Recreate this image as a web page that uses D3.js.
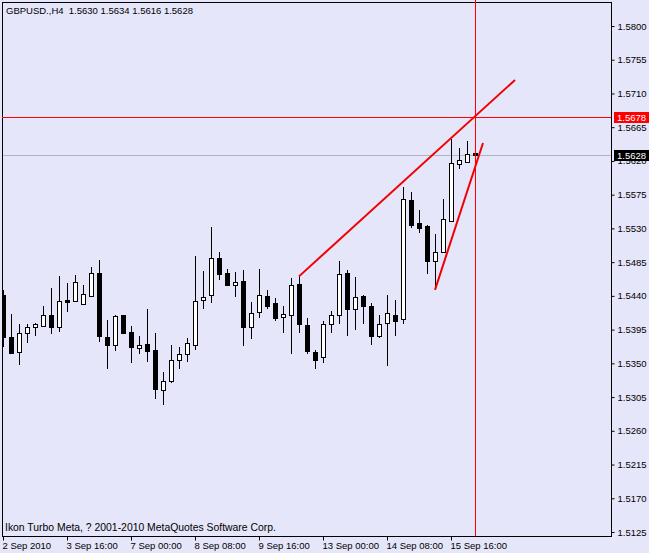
<!DOCTYPE html>
<html><head><meta charset="utf-8">
<script src="https://cdn.jsdelivr.net/npm/d3@7"></script>
<style>
html,body{margin:0;padding:0;background:#E6E6FA;}
svg{display:block;font-family:"Liberation Sans",Arial,sans-serif;}
</style></head>
<body>
<svg id="c" width="649" height="553"></svg>
<script>
// ---- data ----
const openP  = [1.5441,1.5385,1.5365,1.5391,1.5399,1.5400,1.5415,1.5399,1.5434,1.5433,
                1.5429,1.5440,1.5471,1.5385,1.5374,1.5414,1.5392,1.5371,1.5376,1.5368,
                1.5315,1.5326,1.5355,1.5363,1.5375,1.5435,1.5441,1.5491,1.5471,1.5455,
                1.5460,1.5398,1.5418,1.5440,1.5430,1.5412,1.5414,1.5456,1.5401,1.5365,
                1.5358,1.5403,1.5415,1.5470,1.5423,1.5440,1.5426,1.5387,1.5404,1.5415,
                1.5409,1.5568,1.5537,1.5533,1.5486,1.5498,1.5540,1.5616,1.5619,1.5630];
const highP  = [1.5448,1.5416,1.5403,1.5403,1.5404,1.5426,1.5450,1.5467,1.5457,1.5468,
                1.5454,1.5479,1.5488,1.5408,1.5414,1.5415,1.5400,1.5386,1.5423,1.5391,
                1.5338,1.5374,1.5372,1.5384,1.5493,1.5473,1.5532,1.5499,1.5476,1.5472,
                1.5475,1.5432,1.5476,1.5448,1.5437,1.5426,1.5464,1.5466,1.5411,1.5368,
                1.5406,1.5420,1.5487,1.5475,1.5465,1.5441,1.5430,1.5414,1.5441,1.5434,
                1.5585,1.5578,1.5555,1.5534,1.5523,1.5569,1.5649,1.5637,1.5647,1.5634];
const lowP   = [1.5372,1.5362,1.5348,1.5377,1.5386,1.5399,1.5389,1.5392,1.5419,1.5433,
                1.5428,1.5438,1.5379,1.5343,1.5366,1.5390,1.5351,1.5363,1.5352,1.5303,
                1.5294,1.5324,1.5343,1.5352,1.5368,1.5422,1.5431,1.5461,1.5454,1.5439,
                1.5373,1.5382,1.5411,1.5422,1.5407,1.5390,1.5363,1.5391,1.5362,1.5343,
                1.5351,1.5391,1.5403,1.5387,1.5394,1.5402,1.5374,1.5384,1.5347,1.5387,
                1.5403,1.5530,1.5524,1.5469,1.5448,1.5497,1.5539,1.5609,1.5617,1.5616];
const closeP = [1.5385,1.5364,1.5391,1.5399,1.5402,1.5415,1.5399,1.5433,1.5432,1.5459,
                1.5442,1.5470,1.5386,1.5375,1.5413,1.5391,1.5372,1.5375,1.5367,1.5316,
                1.5327,1.5355,1.5362,1.5377,1.5433,1.5439,1.5490,1.5469,1.5455,1.5459,
                1.5399,1.5417,1.5441,1.5426,1.5411,1.5416,1.5454,1.5402,1.5366,1.5354,
                1.5402,1.5414,1.5469,1.5423,1.5439,1.5427,1.5387,1.5403,1.5417,1.5407,
                1.5569,1.5535,1.5531,1.5487,1.5498,1.5543,1.5617,1.5621,1.5629,1.5628];
const timeLabels = ["2 Sep 2010","3 Sep 16:00","7 Sep 00:00","8 Sep 08:00","9 Sep 16:00","13 Sep 00:00","14 Sep 08:00","15 Sep 16:00"];
const timeLabelBars = [0,8,16,24,32,40,48,56];
const priceTicks = [1.5125,1.5170,1.5215,1.5260,1.5305,1.5350,1.5395,1.5440,1.5485,1.5530,1.5575,1.5620,1.5665,1.5710,1.5755,1.5800];
const symbolTitle = "GBPUSD.,H4";
const footerText = "Ikon Turbo Meta, ? 2001-2010 MetaQuotes Software Corp.";
const bidPrice = 1.5628;
const crossBar = 59, crossPrice = 1.5678;
const trendUpper = [{bar:37, price:1.5466},{bar:64, price:1.5728}];
const trendLower = [{bar:54, price:1.5448},{bar:60, price:1.5644}];

// ---- layout ----
const plot = {left:2, top:2, right:611, bottom:536};
const x = d3.scaleLinear().domain([0,59]).range([3,475]);
const y = d3.scaleLinear().domain([1.5125,1.5800]).range([532,26]);
const fmt = d3.format(".4f");
const svg = d3.select("#c");
svg.append("rect").attr("width",649).attr("height",553).attr("fill","#E6E6FA");

svg.append("clipPath").attr("id","pc").append("rect")
  .attr("x",plot.left).attr("y",plot.top).attr("width",plot.right-plot.left).attr("height",plot.bottom-plot.top);
const pg = svg.append("g").attr("clip-path","url(#pc)");

// bid line
pg.append("line").attr("x1",plot.left).attr("x2",plot.right)
  .attr("y1",Math.round(y(bidPrice))+0.5).attr("y2",Math.round(y(bidPrice))+0.5)
  .attr("stroke","#B4B4C0").attr("stroke-width",1);

// candles
const data = openP.map((o,i)=>({i,o,h:highP[i],l:lowP[i],c:closeP[i]}));
const cg = pg.append("g").attr("shape-rendering","crispEdges");
data.forEach(d=>{
  const cx = Math.round(x(d.i))+0.5;
  cg.append("line").attr("x1",cx).attr("x2",cx)
    .attr("y1",Math.round(y(d.h))).attr("y2",Math.round(y(d.l)))
    .attr("stroke","#000");
  const top = Math.round(y(Math.max(d.o,d.c)));
  const bot = Math.round(y(Math.min(d.o,d.c)));
  cg.append("rect").attr("x",cx-2).attr("width",4)
    .attr("y",top+0.5).attr("height",Math.max(bot-top,1))
    .attr("fill", d.c>=d.o ? "#fff" : "#000").attr("stroke","#000");
});

// trend lines
const line = d3.line().x(d=>x(d.bar)).y(d=>y(d.price));
[trendUpper,trendLower].forEach(t=>{
  pg.append("path").attr("d",line(t)).attr("fill","none")
    .attr("stroke","#F00000").attr("stroke-width",2);
});

// border
svg.append("rect").attr("x",plot.left+0.5).attr("y",plot.top+0.5)
  .attr("width",plot.right-plot.left).attr("height",plot.bottom-plot.top)
  .attr("fill","none").attr("stroke","#000").attr("stroke-width",1);

// crosshair (red)
const cxp = Math.round(x(crossBar)), cyp = Math.round(y(crossPrice));
svg.append("rect").attr("x",cxp).attr("y",0).attr("width",1).attr("height",plot.bottom)
  .style("fill","#FF0000").attr("shape-rendering","crispEdges");
svg.append("rect").attr("x",plot.left).attr("y",cyp).attr("width",plot.right-plot.left).attr("height",1)
  .style("fill","#FF0000").attr("shape-rendering","crispEdges");

// y axis
const ya = svg.append("g").attr("transform",`translate(${plot.right+0.5},0)`)
  .call(d3.axisRight(y).tickValues(priceTicks).tickSize(3).tickPadding(3).tickFormat(fmt));
ya.select(".domain").remove();
ya.selectAll("text").attr("font-size","9.5px").attr("font-family","Liberation Sans, Arial, sans-serif").attr("fill","#000");
ya.selectAll("line").attr("stroke","#000");

// x axis
const xa = svg.append("g").attr("transform",`translate(0,${plot.bottom+0.5})`)
  .call(d3.axisBottom(x).tickValues(timeLabelBars).tickSize(4).tickPadding(2)
    .tickFormat((d,i)=>timeLabels[i]));
xa.select(".domain").remove();
xa.selectAll("text").attr("text-anchor","start").attr("dx","-1").attr("font-size","9.5px")
  .attr("font-family","Liberation Sans, Arial, sans-serif").attr("fill","#000");
xa.selectAll("line").attr("stroke","#000");

// price labels on axis
function priceBox(p, bg){
  const yy = Math.round(y(p));
  svg.append("rect").attr("x",plot.right+3).attr("y",yy-5).attr("width",35).attr("height",11).style("fill",bg);
  svg.append("text").attr("x",plot.right+6).attr("y",yy+4).attr("font-size","9.5px").style("fill","#fff").text(fmt(p));
}
priceBox(crossPrice,"#FF0000");
priceBox(bidPrice,"#000000");

// header & footer
svg.append("text").attr("x",6).attr("y",14).attr("font-size","9.5px").attr("fill","#000")
  .style("white-space","pre")
  .text(`${symbolTitle}  ${fmt(openP[59])} ${fmt(highP[59])} ${fmt(lowP[59])} ${fmt(closeP[59])}`);
svg.append("text").attr("x",5).attr("y",531).attr("font-size","10.4px").attr("fill","#000").text(footerText);
</script>
</body></html>
